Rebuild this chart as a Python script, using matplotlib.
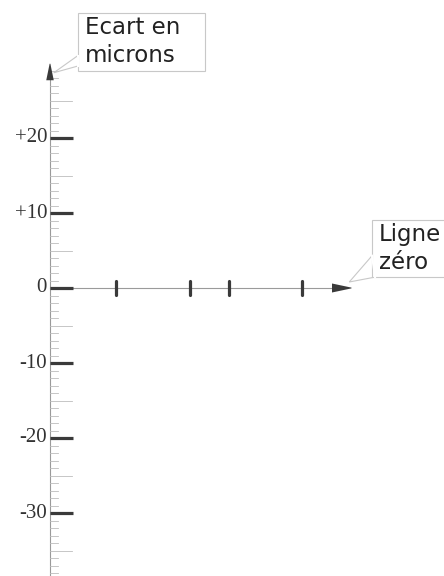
import matplotlib.pyplot as plt
from matplotlib.patches import Polygon, Rectangle

# echelle verticale (microns)
major_values = [20, 10, 0, -10, -20, -30]
major_labels = ["+20", "+10", "0", "-10", "-20", "-30"]
minor_values = list(range(-38, 30))
mark_x = [8.8, 18.7, 23.9, 33.6]
mark_y = [0, 0, 0, 0]

S = 7.5  # px par micron
fig = plt.figure(figsize=(4.44, 5.76), dpi=100)
ax = fig.add_axes([0, 0, 1, 1])
ax.set_xlim(-50 / S, 394 / S)
ax.set_ylim(-38.4, 38.4)
ax.set_axis_off()

grey = "#9a9a9a"
dark = "#3a3a3a"

# axe vertical
ax.plot([0, 0], [-38.4, 28.5], color=grey, lw=0.8, zorder=1)
ax.add_patch(Polygon([[-0.5, 27.7], [0.5, 27.7], [0.05, 29.9], [-0.05, 29.9]],
                     closed=True, color=dark, lw=0, zorder=2))

# graduations mineures
for v in minor_values:
    if v in major_values:
        continue
    length = 2.9 if v % 5 == 0 else 1.0
    ax.plot([0, length], [v, v], color="#bdbdbd", lw=0.6, zorder=1)

# ligne zero
ax.plot([0, 38.5], [0, 0], color=grey, lw=0.8, zorder=1)
ax.add_patch(Polygon([[37.6, 0.6], [37.6, -0.6], [40.2, -0.05], [40.2, 0.05]],
                     closed=True, color=dark, lw=0, zorder=2))

# graduations majeures + etiquettes
for v, lab in zip(major_values, major_labels):
    ax.plot([0, 3.1], [v, v], color=dark, lw=2.3, solid_capstyle="butt", zorder=2)
    ax.text(-0.4, v, lab, ha="right", va="center", fontsize=15,
            family="Liberation Serif", color="#333333")

# releves
for x, y in zip(mark_x, mark_y):
    ax.plot([x, x], [y - 0.9, y + 0.9], color=dark, lw=2.3,
            solid_capstyle="round", zorder=2)

# bulles
def callout(x0, y0, x1, y1, wedge, text):
    ax.add_patch(Polygon(wedge, closed=False, facecolor="white",
                         edgecolor="#c8c8c8", lw=0.8, zorder=3))
    ax.add_patch(Rectangle((x0, y0), x1 - x0, y1 - y0, facecolor="white",
                           edgecolor="#c8c8c8", lw=0.8, zorder=4))
    ax.plot([wedge[0][0], wedge[-1][0]], [wedge[0][1], wedge[-1][1]],
            color="white", lw=1.5, zorder=5)
    ax.text(x0 + 0.9, (y0 + y1) / 2, text, ha="left", va="center",
            fontsize=16.5, family="DejaVu Sans", color="#222222",
            linespacing=1.25, zorder=6)

callout(28 / S, 29.0, 155 / S, 36.7,
        [[28 / S, 31.0], [0.5, 28.7], [28 / S, 29.6]],
        "Ecart en\nmicrons")
callout(322 / S, 1.45, 400 / S, 9.1,
        [[322 / S, 4.3], [39.9, 0.8], [325 / S, 1.45]],
        "Ligne\nzéro")

fig.savefig("out.png", dpi=100)
